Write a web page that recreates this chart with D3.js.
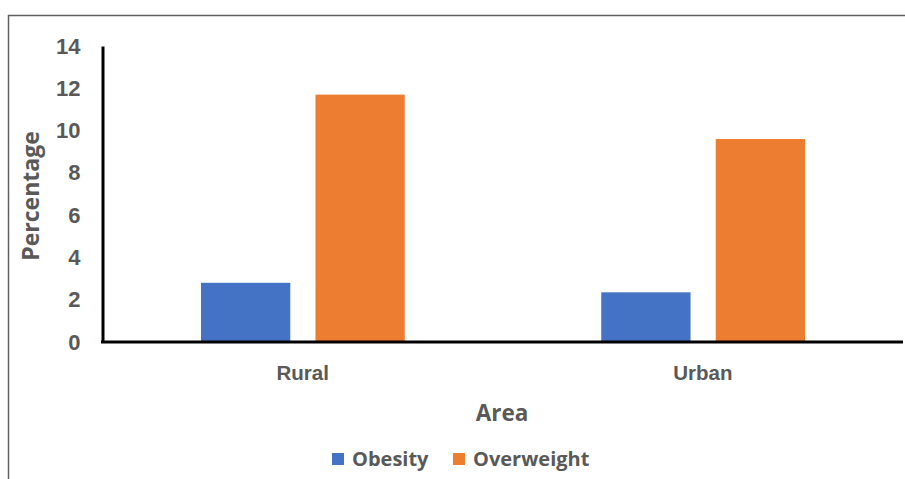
<!DOCTYPE html>
<html lang="en">
<head>
  <meta charset="UTF-8">
  <title>Obesity and Overweight by Area</title>
  <script src="https://d3js.org/d3.v7.min.js"></script>
  <style>
    body {
      margin: 0;
      background: #fff;
      font-family: "Open Sans", Arial, sans-serif;
    }

    svg text {
      fill: #595959;
      font-weight: bold;
    }
  </style>
</head>
<body>
  <svg id="chart"></svg>

  <script>
    // chart data
    const categories = ["Rural", "Urban"];
    const seriesNames = ["Obesity", "Overweight"];
    const obesity = [2.8, 2.35];
    const overweight = [11.7, 9.6];
    const yTicks = [0, 2, 4, 6, 8, 10, 12, 14];

    const colors = { Obesity: "#4472C4", Overweight: "#ED7D31" };

    const rows = categories.map((c, i) => ({ cat: c, Obesity: obesity[i], Overweight: overweight[i] }));

    const W = 905, H = 479;
    const svg = d3.select("#chart").attr("width", W).attr("height", H);

    // outer frame (top + left only visible)
    svg.append("path")
      .attr("d", `M8.5,${H} L8.5,15.5 L${W},15.5`)
      .attr("fill", "none")
      .attr("stroke", "#5f5f5f")
      .attr("stroke-width", 1.5);

    const x0 = d3.scaleBand()
      .domain(categories)
      .range([102.5, 903])
      .paddingInner(0)
      .paddingOuter(0);

    const x1 = d3.scaleBand()
      .domain(seriesNames)
      .range([98.5, x0.bandwidth() - 98])
      .paddingInner(0.22);

    const y = d3.scaleLinear()
      .domain([0, 14])
      .range([342, 46]);

    // bars
    const groups = svg.selectAll(".grp")
      .data(rows)
      .enter().append("g")
      .attr("class", "grp")
      .attr("transform", d => `translate(${x0(d.cat)},0)`);

    groups.selectAll("rect")
      .data(d => seriesNames.map(k => ({ key: k, value: d[k] })))
      .enter().append("rect")
      .attr("x", d => x1(d.key))
      .attr("width", x1.bandwidth())
      .attr("y", d => y(d.value))
      .attr("height", d => y(0) - y(d.value))
      .attr("fill", d => colors[d.key]);

    // y axis
    const yAxis = svg.append("g")
      .attr("transform", "translate(102.5,0)")
      .call(d3.axisLeft(y).tickValues(yTicks).tickSize(0).tickPadding(22));
    yAxis.select(".domain").attr("stroke", "#000").attr("stroke-width", 3);
    yAxis.selectAll("text").style("font-size", "22px").attr("fill", "#595959");

    // x axis
    const xAxis = svg.append("g")
      .attr("transform", "translate(0,342)")
      .call(d3.axisBottom(x0).tickSize(0).tickPadding(23));
    xAxis.select(".domain").attr("stroke", "#000").attr("stroke-width", 3)
      .attr("d", "M101,0H903");
    xAxis.selectAll("text").style("font-size", "20.5px").attr("fill", "#595959");

    // axis titles
    svg.append("text")
      .attr("x", 502)
      .attr("y", 421)
      .attr("text-anchor", "middle")
      .style("font-size", "22.5px")
      .text("Area");

    svg.append("text")
      .attr("transform", "translate(39,196) rotate(-90)")
      .attr("text-anchor", "middle")
      .style("font-size", "23px")
      .text("Percentage");

    // legend
    const legendX = [332, 453];
    const legend = svg.selectAll(".lg")
      .data(seriesNames)
      .enter().append("g")
      .attr("class", "lg")
      .attr("transform", (d, i) => `translate(${legendX[i]},453)`);

    legend.append("rect")
      .attr("width", 12)
      .attr("height", 12)
      .attr("fill", d => colors[d]);

    legend.append("text")
      .attr("x", 20)
      .attr("y", 13)
      .style("font-size", "20px")
      .text(d => d);
  </script>
</body>
</html>
